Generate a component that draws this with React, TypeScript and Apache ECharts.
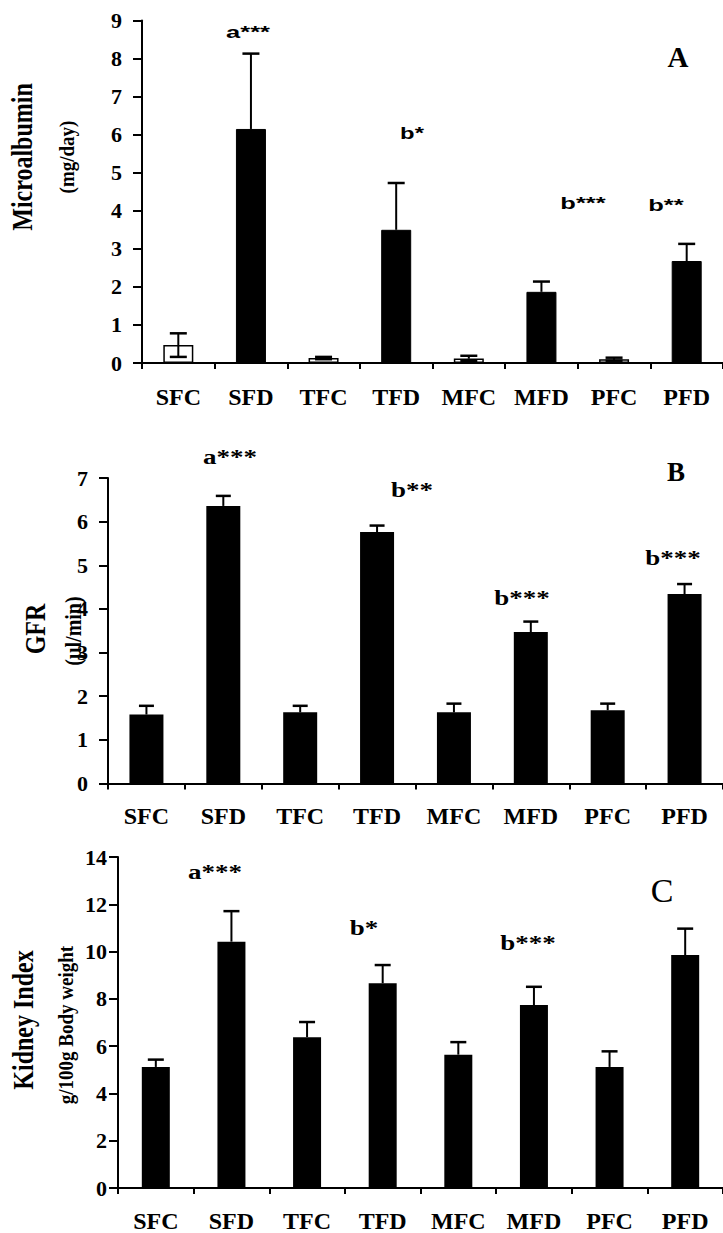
import React, { useEffect, useRef } from "react";
import * as echarts from "echarts";

const categories = ["SFC", "SFD", "TFC", "TFD", "MFC", "MFD", "PFC", "PFD"];

const microMean = [0.47, 6.15, 0.13, 3.5, 0.12, 1.87, 0.1, 2.68];
const microErr = [0.31, 1.98, 0.03, 1.23, 0.07, 0.27, 0.04, 0.45];

const gfrMean = [1.58, 6.36, 1.63, 5.76, 1.63, 3.47, 1.68, 4.34];
const gfrErr = [0.2, 0.23, 0.15, 0.15, 0.2, 0.24, 0.15, 0.23];

const kidneyMean = [5.12, 10.42, 6.38, 8.66, 5.64, 7.74, 5.12, 9.85];
const kidneyErr = [0.31, 1.29, 0.64, 0.77, 0.53, 0.77, 0.66, 1.12];

const SERIF = "'Liberation Serif', 'Times New Roman', serif";
const SANS = "'Liberation Sans', Arial, sans-serif";

function xAxisFor(gridIndex: number, margin: number) {
  return {
    type: "category",
    gridIndex,
    data: categories,
    axisLine: { show: true, lineStyle: { color: "#000", width: 2 } },
    axisTick: { show: true, length: 6, lineStyle: { color: "#000", width: 2 } },
    axisLabel: {
      interval: 0,
      margin,
      color: "#000",
      fontFamily: SERIF,
      fontWeight: "bold",
      fontSize: 24,
    },
    splitLine: { show: false },
  };
}

function yAxisFor(gridIndex: number, max: number, interval: number, margin: number) {
  return {
    type: "value",
    gridIndex,
    min: 0,
    max,
    interval,
    axisLine: { show: true, lineStyle: { color: "#000", width: 2 } },
    axisTick: { show: true, length: 9, lineStyle: { color: "#000", width: 2 } },
    axisLabel: {
      margin,
      color: "#000",
      fontFamily: SERIF,
      fontWeight: "bold",
      fontSize: 22,
    },
    splitLine: { show: false },
  };
}

function errSeries(idx: number, mean: number[], err: number[], both: boolean[], capW: number) {
  return {
    type: "custom",
    xAxisIndex: idx,
    yAxisIndex: idx,
    clip: false,
    z: 5,
    encode: { x: 0, y: 1 },
    data: mean.map((m, i) => [i, m, err[i], both[i] ? 1 : 0]),
    renderItem: (params: any, api: any) => {
      const i = api.value(0);
      const m = api.value(1);
      const e = api.value(2);
      const b = api.value(3);
      const mid = api.coord([i, m]);
      const top = api.coord([i, m + e]);
      const bot = api.coord([i, m - e]);
      const h = capW / 2;
      const st = { stroke: "#000", lineWidth: 2 };
      const children: any[] = [
        { type: "line", shape: { x1: mid[0], y1: mid[1], x2: top[0], y2: top[1] }, style: st },
        { type: "line", shape: { x1: top[0] - h, y1: top[1], x2: top[0] + h, y2: top[1] }, style: { ...st, lineWidth: 2.5 } },
      ];
      if (b) {
        children.push(
          { type: "line", shape: { x1: mid[0], y1: mid[1], x2: bot[0], y2: bot[1] }, style: st },
          { type: "line", shape: { x1: bot[0] - h, y1: bot[1], x2: bot[0] + h, y2: bot[1] }, style: { ...st, lineWidth: 2.5 } }
        );
      }
      return { type: "group", children };
    },
  };
}

function txt(x: number, y: number, text: string, size: number, family: string, opts: any = {}) {
  return {
    type: "text",
    x,
    y,
    rotation: opts.rotation || 0,
    scaleX: opts.scaleX || 1,
    scaleY: opts.scaleY || 1,
    style: {
      text,
      fill: "#000",
      font: `${opts.weight || "bold"} ${size}px ${family}`,
      textAlign: "center",
      textVerticalAlign: "middle",
    },
  };
}

export default function App() {
  const ref = useRef<HTMLDivElement>(null);
  useEffect(() => {
    if (!ref.current) return;
    const chart = echarts.init(ref.current, null, { renderer: "svg" });
    const controlA = categories.map((c) => c.endsWith("C"));
    const none = categories.map(() => false);
    const R = Math.PI / 2;
    const option: any = {
      animation: false,
      backgroundColor: "#fff",
      grid: [
        { left: 142, top: 20.5, width: 584, height: 342.5 },
        { left: 108, top: 478, width: 622, height: 305.5 },
        { left: 118, top: 857, width: 606, height: 333 },
      ],
      xAxis: [xAxisFor(0, 22), xAxisFor(1, 20), xAxisFor(2, 21)],
      yAxis: [yAxisFor(0, 9, 1, 20), yAxisFor(1, 7, 1, 20), yAxisFor(2, 14, 2, 11)],
      series: [
        {
          type: "bar",
          xAxisIndex: 0,
          yAxisIndex: 0,
          barWidth: 30,
          data: microMean.map((v, i) => ({
            value: v,
            itemStyle: controlA[i]
              ? { color: "#fff", borderColor: "#000", borderWidth: 1.5 }
              : { color: "#000", borderColor: "#000", borderWidth: 1 },
          })),
        },
        errSeries(0, microMean, microErr, controlA, 17),
        {
          type: "bar",
          xAxisIndex: 1,
          yAxisIndex: 1,
          barWidth: 34,
          itemStyle: { color: "#000" },
          data: gfrMean,
        },
        errSeries(1, gfrMean, gfrErr, none, 15),
        {
          type: "bar",
          xAxisIndex: 2,
          yAxisIndex: 2,
          barWidth: 28,
          itemStyle: { color: "#000" },
          data: kidneyMean,
        },
        errSeries(2, kidneyMean, kidneyErr, none, 16),
      ],
      graphic: [
        // Panel A
        txt(22, 157, "Microalbumin", 24, SERIF, { rotation: R, scaleY: 1.25 }),
        txt(67, 157, "(mg/day)", 19, SERIF, { rotation: R, scaleY: 1.15 }),
        txt(678, 57, "A", 29, SERIF),
        txt(248, 32, "a***", 17, SANS, { scaleX: 1.5 }),
        txt(412, 133, "b*", 17, SANS, { scaleX: 1.4 }),
        txt(583, 203, "b***", 17, SANS, { scaleX: 1.5 }),
        txt(666, 205, "b**", 17, SANS, { scaleX: 1.5 }),
        // Panel B
        txt(35, 629, "GFR", 24, SERIF, { rotation: R, scaleY: 1.25 }),
        txt(74, 631, "(µl/min)", 20, SERIF, { rotation: R, scaleY: 1.15 }),
        txt(676, 472, "B", 27, SERIF),
        txt(230, 457, "a***", 20, SERIF, { scaleX: 1.35 }),
        txt(412, 490, "b**", 20, SERIF, { scaleX: 1.35 }),
        txt(522, 598, "b***", 20, SERIF, { scaleX: 1.35 }),
        txt(673, 558, "b***", 20, SERIF, { scaleX: 1.35 }),
        // Panel C
        txt(23, 1020, "Kidney Index", 24, SERIF, { rotation: R, scaleY: 1.2 }),
        txt(66, 1025, "g/100g Body weight", 19, SERIF, { rotation: R, scaleY: 1.15 }),
        txt(662, 890, "C", 34, SERIF, { weight: "normal" }),
        txt(215, 872, "a***", 20, SERIF, { scaleX: 1.35 }),
        txt(364, 928, "b*", 20, SERIF, { scaleX: 1.35 }),
        txt(528, 943, "b***", 20, SERIF, { scaleX: 1.35 }),
      ],
    };
    chart.setOption(option);
    return () => chart.dispose();
  }, []);
  return (
    <div
      ref={ref}
      style={{ position: "absolute", left: 0, top: 0, width: 723, height: 1233, background: "#fff" }}
    />
  );
}
